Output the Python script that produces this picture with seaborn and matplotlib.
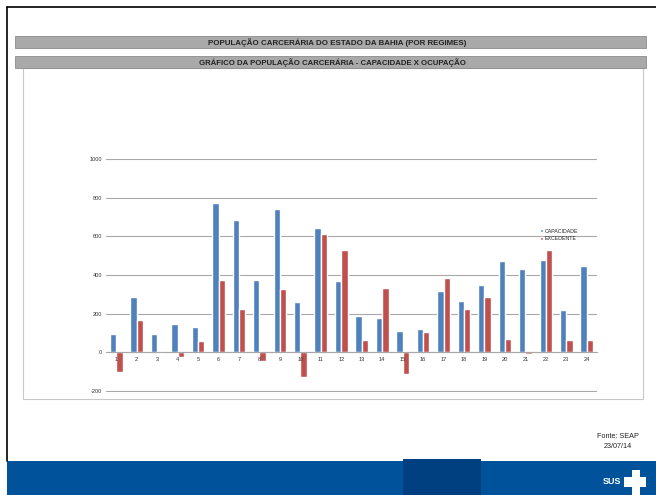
import matplotlib
matplotlib.use("Agg")
import matplotlib.pyplot as plt
import matplotlib.patches as mpatches
import seaborn as sns
import pandas as pd

categories = [str(i) for i in range(1, 25)]
capacidade = [97, 284, 97, 149, 131, 772, 685, 374, 744, 260, 644, 367,
              187, 180, 111, 121, 315, 267, 347, 475, 430, 478, 218, 447]
excedente = [-99, 166, -3, -24, 59, 374, 225, -45, 329, -125, 612, 529,
             62, 333, -114, 107, 385, 222, 284, 69, -7, 527, 62, 66]
series_names = ["CAPACIDADE", "EXCEDENTE"]
yticks = [-200, 0, 200, 400, 600, 800, 1000]
title1 = "POPULAÇÃO CARCERÁRIA DO ESTADO DA BAHIA (POR REGIMES)"
title2 = "GRÁFICO DA POPULAÇÃO CARCERÁRIA - CAPACIDADE X OCUPAÇÃO"

df = pd.DataFrame({
    "cat": categories * 2,
    "val": capacidade + excedente,
    "serie": [series_names[0]] * len(categories) + [series_names[1]] * len(categories),
})

sns.set_theme(style="white")
plt.rcParams["font.family"] = ["Liberation Sans", "DejaVu Sans"]

W, H = 656, 495
fig = plt.figure(figsize=(W / 100, H / 100), dpi=100)
fig.patch.set_facecolor("white")

def rect(x0, y0, x1, y1, **kw):
    # pixel coords (top-left origin) -> figure coords
    r = mpatches.Rectangle((x0 / W, 1 - y1 / H), (x1 - x0) / W, (y1 - y0) / H,
                           transform=fig.transFigure, zorder=-5, **kw)
    fig.patches.append(r)
    return r

# outer black frame lines
fig.add_artist(plt.Line2D([7 / W, 7 / W], [1 - 7 / H, 1 - 461 / H], transform=fig.transFigure, color="black", lw=1.2))
fig.add_artist(plt.Line2D([7 / W, 1], [1 - 7 / H, 1 - 7 / H], transform=fig.transFigure, color="black", lw=1.2))

# chart box
rect(23, 68, 643, 399, facecolor="white", edgecolor="#c8c8c8", lw=0.8)
# title bars
rect(15, 36, 646, 48, facecolor="#a9a9a9", edgecolor="#8c8c8c", lw=0.6)
rect(15, 56, 646, 68, facecolor="#a9a9a9", edgecolor="#8c8c8c", lw=0.6)
fig.text(337 / W, 1 - 42.5 / H, title1, ha="center", va="center", fontsize=5.7, fontweight="bold", color="#222222")
fig.text(332 / W, 1 - 62.5 / H, title2, ha="center", va="center", fontsize=5.6, fontweight="bold", color="#222222")

# bottom band
rect(7, 461, 656, 495, facecolor="#00529b", edgecolor="none")
rect(403, 459, 481, 495, facecolor="#003f80", edgecolor="none")
fig.text(612 / W, 1 - 481 / H, "SUS", ha="center", va="center", fontsize=6.5, fontweight="bold", color="white")
rect(632, 470, 640, 495, facecolor="white", edgecolor="none")
rect(624, 477, 646, 487, facecolor="white", edgecolor="none")
fig.text(618 / W, 1 - 437 / H, "Fonte: SEAP", ha="center", va="center", fontsize=5.2, color="#222222")
fig.text(618 / W, 1 - 447 / H, "23/07/14", ha="center", va="center", fontsize=5.2, color="#222222")

ax = fig.add_axes([106 / W, 1 - 392 / H, 491 / W, 233 / H])
ax.set_zorder(5)
ax.set_facecolor("none")
sns.barplot(data=df, x="cat", y="val", hue="serie", order=categories, hue_order=series_names,
            palette=["#4f81bd", "#c0504d"], width=0.62, saturation=1, ax=ax, legend=True)
ax.set_ylim(-205, 1000)
ax.set_xlim(-0.5, len(categories) - 0.5)
ax.set_yticks(yticks)
ax.set_yticklabels([str(t) for t in yticks], fontsize=4.1, color="#333333")
ax.yaxis.grid(True, color="#a8a8a8", lw=0.8)
ax.set_axisbelow(True)
ax.xaxis.set_zorder(3)
ax.set_xlabel("")
ax.set_ylabel("")
for s in ["top", "right", "left"]:
    ax.spines[s].set_visible(False)
ax.spines["bottom"].set_position(("data", 0))
ax.spines["bottom"].set_color("#a8a8a8")
ax.spines["bottom"].set_linewidth(0.8)
ax.tick_params(axis="x", length=0, labelsize=4.1, pad=3, labelcolor="#333333")
ax.tick_params(axis="y", length=2, width=0.5, color="#a8a8a8", pad=1)
ax.set_xticks(range(len(categories)))
ax.set_xticklabels(categories)
ax.set_xticks([i + 0.5 for i in range(-1, len(categories))], minor=True)
ax.tick_params(axis="x", which="minor", length=2, width=0.5, color="#a8a8a8", direction="out")

leg = ax.legend(loc="upper left", bbox_to_anchor=(431 / 491, (392 - 226) / 233), frameon=False,
                fontsize=3.8, handlelength=0.6, handleheight=0.6, handletextpad=0.3,
                labelspacing=0.5, borderpad=0)

fig.savefig("out.png", dpi=100)
